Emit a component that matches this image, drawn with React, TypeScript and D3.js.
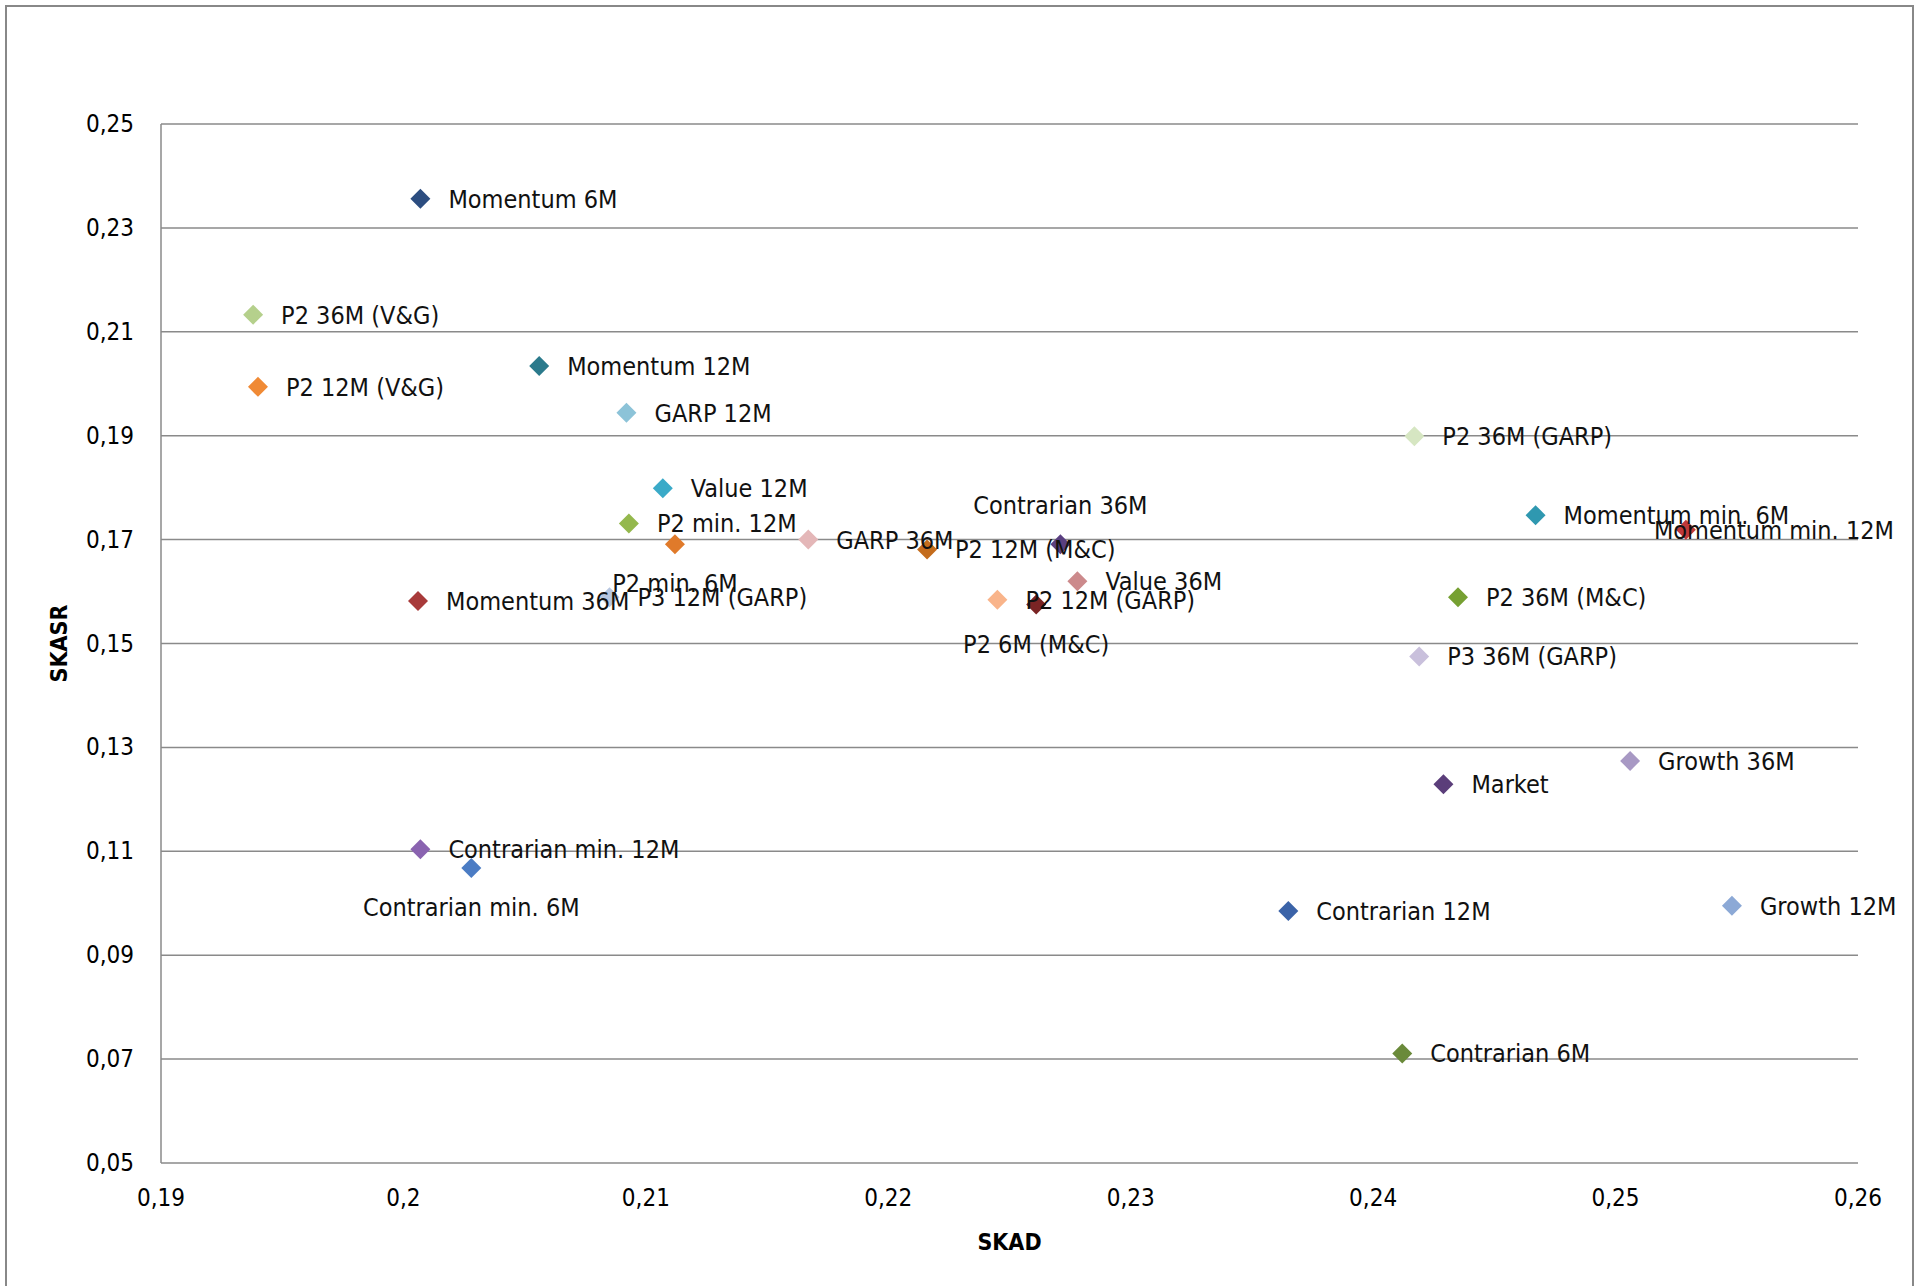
import { useEffect, useRef } from "react";
import * as d3 from "d3";

// [label, SKAD, SKASR, colour, label placement]
const names = [
  "Momentum 6M", "P2 36M (V&G)", "Momentum 12M", "P2 12M (V&G)", "GARP 12M", "Value 12M",
  "P2 min. 12M", "P2 min. 6M", "P3 12M (GARP)", "GARP 36M", "P2 12M (M&C)", "Contrarian 36M",
  "Value 36M", "P2 12M (GARP)", "P2 6M (M&C)", "Momentum 36M", "P2 36M (GARP)", "Momentum min. 6M",
  "Momentum min. 12M", "P2 36M (M&C)", "P3 36M (GARP)", "Growth 36M", "Market",
  "Contrarian min. 12M", "Contrarian min. 6M", "Contrarian 12M", "Growth 12M", "Contrarian 6M",
];
const skad = [
  0.2007, 0.1938, 0.2056, 0.194, 0.2092, 0.2107, 0.2093, 0.2112, 0.2085, 0.2167, 0.2216, 0.2271,
  0.2278, 0.2245, 0.2261, 0.2006, 0.2417, 0.2467, 0.2529, 0.2435, 0.2419, 0.2506, 0.2429,
  0.2007, 0.2028, 0.2365, 0.2548, 0.2412,
];
const skasr = [
  0.2356, 0.2133, 0.2034, 0.1994, 0.1944, 0.1799, 0.1731, 0.1691, 0.1589, 0.17, 0.1681, 0.1691,
  0.162, 0.1584, 0.1575, 0.1582, 0.1899, 0.1747, 0.1719, 0.1589, 0.1475, 0.1274, 0.1229,
  0.1104, 0.1068, 0.0985, 0.0995, 0.0711,
];
const colors = [
  "#2c4d80", "#b5d08c", "#2b7a8c", "#f08a35", "#8cc3d8", "#3aaac8", "#94b84d", "#e07a2a",
  "#b7c6e0", "#e4b7b8", "#c46c1c", "#5a3f80", "#cc8a8c", "#f9b48a", "#7a2424", "#a83a3a",
  "#d6e6c2", "#2f98b0", "#c0393a", "#76a032", "#c9c0dc", "#a899c4", "#5b3e7a", "#8a63b0",
  "#4b7cc4", "#3b63a8", "#8ca9d6", "#6a8a3a",
];
const place = [
  "r", "r", "r", "r", "r", "r", "r", "b", "r", "r", "r", "t", "r", "r", "b", "r", "r", "r",
  "m", "r", "r", "r", "r", "r", "b", "r", "r", "r",
];
const xTicks = [0.19, 0.2, 0.21, 0.22, 0.23, 0.24, 0.25, 0.26];
const yTicks = [0.05, 0.07, 0.09, 0.11, 0.13, 0.15, 0.17, 0.19, 0.21, 0.23, 0.25];

const W = 1921;
const H = 1286;
const FONT = "'Liberation Sans Narrow', 'DejaVu Sans Condensed', 'Liberation Sans', sans-serif";
const fmt = (v: number) => String(+v.toFixed(2)).replace(".", ",");

export default function App() {
  const ref = useRef<SVGSVGElement | null>(null);

  useEffect(() => {
    if (!ref.current) return;
    const svg = d3.select(ref.current);
    svg.selectAll("*").remove();

    const x = d3.scaleLinear().domain([0.19, 0.26]).range([161, 1858]);
    const y = d3.scaleLinear().domain([0.05, 0.25]).range([1163, 124]);

    svg.append("rect").attr("x", 6).attr("y", 6).attr("width", 1907).attr("height", 1300)
      .attr("fill", "#fff").attr("stroke", "#888").attr("stroke-width", 2);

    svg.append("g").selectAll("line").data(yTicks).join("line")
      .attr("x1", x(0.19)).attr("x2", x(0.26))
      .attr("y1", (d) => y(d)).attr("y2", (d) => y(d))
      .attr("stroke", "#8a8a8a").attr("stroke-width", 1.5);
    svg.append("line").attr("x1", x(0.19)).attr("x2", x(0.19)).attr("y1", y(0.25)).attr("y2", y(0.05))
      .attr("stroke", "#8a8a8a").attr("stroke-width", 1.5);

    svg.append("g").selectAll("text").data(yTicks).join("text")
      .attr("x", 134).attr("y", (d) => y(d) + 8).attr("text-anchor", "end")
      .attr("font-family", FONT).attr("font-size", 24).text(fmt);
    svg.append("g").selectAll("text").data(xTicks).join("text")
      .attr("x", (d) => x(d)).attr("y", 1206).attr("text-anchor", "middle")
      .attr("font-family", FONT).attr("font-size", 24).text(fmt);

    svg.append("text").attr("x", x(0.225)).attr("y", 1250).attr("text-anchor", "middle")
      .attr("font-family", FONT).attr("font-size", 23).attr("font-weight", "bold").text("SKAD");
    svg.append("text").attr("transform", `translate(67,${y(0.15)}) rotate(-90)`).attr("text-anchor", "middle")
      .attr("font-family", FONT).attr("font-size", 23).attr("font-weight", "bold").text("SKASR");

    const idx = d3.range(names.length);
    const sym = d3.symbol().type(d3.symbolSquare).size(200);
    svg.append("g").selectAll("path").data(idx).join("path")
      .attr("d", sym)
      .attr("transform", (i) => `translate(${x(skad[i])},${y(skasr[i])}) rotate(45)`)
      .attr("fill", (i) => colors[i]);

    svg.append("g").selectAll("text").data(idx).join("text")
      .attr("font-family", FONT).attr("font-size", 25).attr("fill", "#111")
      .attr("x", (i) => {
        const px = x(skad[i]);
        if (place[i] === "r") return px + 28;
        if (place[i] === "m") return px - 32;
        return px;
      })
      .attr("y", (i) => {
        const py = y(skasr[i]);
        if (place[i] === "b") return py + 48;
        if (place[i] === "t") return py - 30;
        return py + 9;
      })
      .attr("text-anchor", (i) => (place[i] === "b" || place[i] === "t" ? "middle" : "start"))
      .text((i) => names[i]);
  }, []);

  return (
    <svg ref={ref} width={W} height={H}
      style={{ position: "absolute", left: 0, top: 0, display: "block", background: "#fff" }} />
  );
}
